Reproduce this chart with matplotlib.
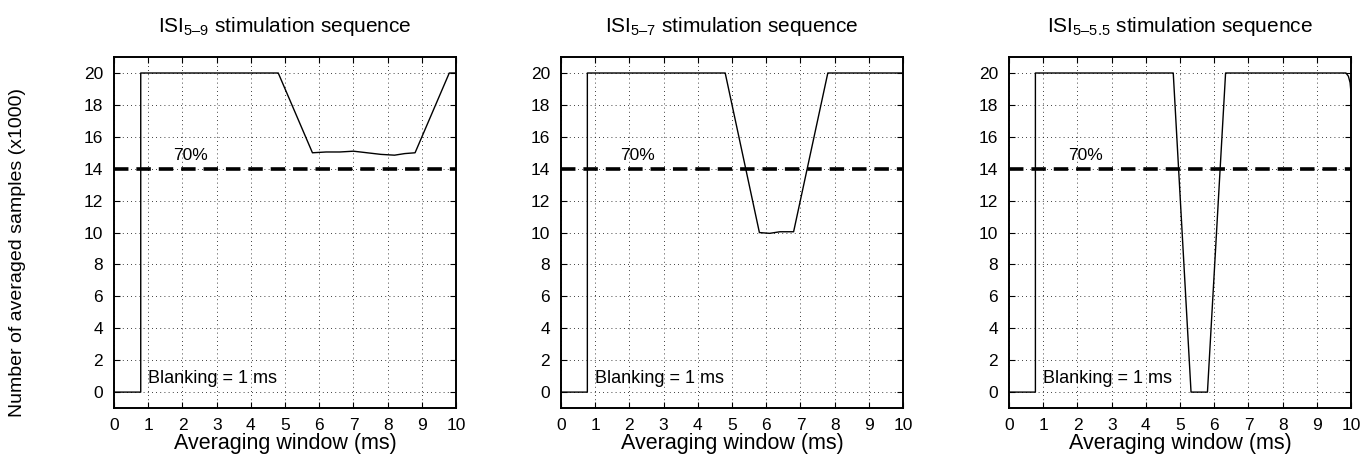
import matplotlib.pyplot as plt
import numpy as np

plt.rcParams['font.family'] = ['Liberation Sans', 'DejaVu Sans']
plt.rcParams['mathtext.fontset'] = 'custom'
plt.rcParams['mathtext.rm'] = 'Liberation Sans'
plt.rcParams['mathtext.it'] = 'Liberation Sans:italic'

# averaging window (ms) and number of averaged samples (x1000)
x_isi59 = [0, 0.78, 0.78, 4.8, 5.8, 6.2, 6.6, 7.0, 7.4, 7.8, 8.2, 8.5, 8.8, 9.8, 10]
y_isi59 = [0, 0, 20, 20, 15.0, 15.05, 15.05, 15.1, 15.0, 14.9, 14.85, 14.95, 15.0, 20, 20]

x_isi57 = [0, 0.77, 0.77, 4.8, 5.8, 6.1, 6.4, 6.8, 7.8, 10]
y_isi57 = [0, 0, 20, 20, 10.0, 9.95, 10.05, 10.05, 20, 20]

x_isi555 = [0, 0.77, 0.77, 4.8, 5.32, 5.8, 6.33, 9.85, 9.92, 9.97, 10]
y_isi555 = [0, 0, 20, 20, 0, 0, 20, 20, 19.8, 19.4, 18.7]

titles = ['ISI$_{\\mathrm{5\u20139}}$ stimulation sequence',
          'ISI$_{\\mathrm{5\u20137}}$ stimulation sequence',
          'ISI$_{\\mathrm{5\u20135.5}}$ stimulation sequence']
threshold = 14  # 70 % of 20000 samples
x_ticks = list(range(0, 11))
y_ticks = list(range(0, 21, 2))

fig = plt.figure(figsize=(13.66, 4.59), dpi=100)
lefts = [0.0835, 0.4107, 0.7387]
series = [(x_isi59, y_isi59), (x_isi57, y_isi57), (x_isi555, y_isi555)]

for left, (xs, ys), title in zip(lefts, series, titles):
    ax = fig.add_axes([left, 0.111, 0.2504, 0.7647])
    ax.plot(xs, ys, color='black', linewidth=1.0)
    ax.axhline(threshold, color='black', linestyle=(0, (4, 2.2)), linewidth=2.6)
    ax.set_xlim(0, 10)
    ax.set_ylim(-1, 21)
    ax.set_xticks(x_ticks)
    ax.set_yticks(y_ticks)
    ax.grid(True, linestyle=(0, (1, 4)), color='black', linewidth=0.6)
    ax.tick_params(direction='in', top=True, right=True, labelsize=12.5, length=4)
    ax.tick_params(axis='x', pad=7)
    ax.tick_params(axis='y', pad=8)
    for sp in ax.spines.values():
        sp.set_linewidth(1.4)
    ax.set_xlabel('Averaging window (ms)', fontsize=15.5, labelpad=0)
    ax.set_title(title, fontsize=15, pad=18)
    ax.text(1.72, 14.8, '70%', fontsize=12.5, va='center', ha='left')
    ax.text(1.0, 0.85, 'Blanking = 1 ms', fontsize=13, va='center', ha='left')

fig.text(0.013, 0.45, 'Number of averaged samples (x1000)', rotation=90,
         fontsize=14, va='center', ha='center')

fig.savefig('out.png', dpi=100)
